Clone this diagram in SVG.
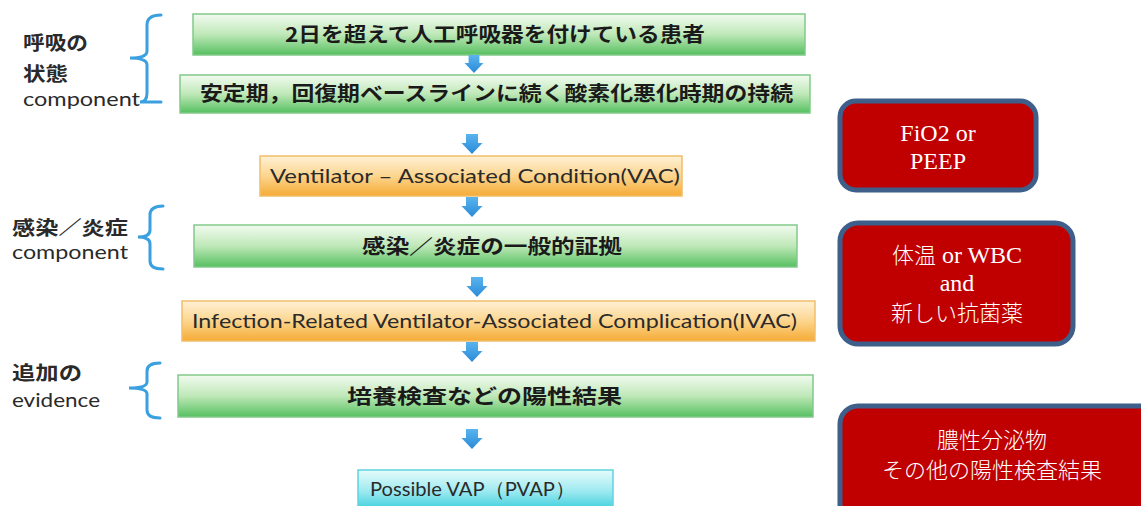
<svg xmlns="http://www.w3.org/2000/svg" width="1141" height="506" viewBox="0 0 1141 506">
<defs>
<linearGradient id="gGreen" x1="0" y1="0" x2="0" y2="1">
<stop offset="0" stop-color="#f2fbf0"/><stop offset="0.5" stop-color="#bfe8b8"/><stop offset="1" stop-color="#55c060"/>
</linearGradient>
<linearGradient id="gOrange" x1="0" y1="0" x2="0" y2="1">
<stop offset="0" stop-color="#fff1d6"/><stop offset="0.5" stop-color="#fcd58e"/><stop offset="1" stop-color="#f5ab35"/>
</linearGradient>
<linearGradient id="gCyan" x1="0" y1="0" x2="0" y2="1">
<stop offset="0" stop-color="#e6fbfb"/><stop offset="0.5" stop-color="#9eeaf0"/><stop offset="1" stop-color="#33cbdc"/>
</linearGradient>
<linearGradient id="gArrow" x1="0" y1="0" x2="0" y2="1">
<stop offset="0" stop-color="#5ab4ee"/><stop offset="1" stop-color="#2a8ad8"/>
</linearGradient>
<path id="arw" d="M-6,0 L6,0 L6,9 L10.5,9 L0,20 L-10.5,9 L-6,9 Z"/>
</defs>
<style>
.green{fill:url(#gGreen);stroke:#82c98a;stroke-width:1.5}
.orange{fill:url(#gOrange);stroke:#f2bd6a;stroke-width:1.5}
.cyan{fill:url(#gCyan);stroke:#5fd3e0;stroke-width:1.5}
.jp{font-family:"Noto Sans CJK JP",sans-serif;font-weight:700;font-size:20px;fill:#1a1a1a}
.en{font-family:"Lato","Open Sans",sans-serif;font-size:20px;fill:#2a2a2a}
.lbl{font-family:"Noto Sans CJK JP",sans-serif;font-weight:700;font-size:19px;fill:#2a2a2a}
.lblen{font-family:"Lato","Open Sans",sans-serif;font-size:20px;fill:#2a2a2a}
.brace{fill:none;stroke:#3aa0e0;stroke-width:3;stroke-linecap:round}
.red{fill:#c00000;stroke:#3d5f8a;stroke-width:5}
.rt{font-family:"Liberation Serif","Noto Sans CJK JP",serif;font-size:24px;fill:#ffffff;text-anchor:middle}
.rtj{font-family:"Noto Sans CJK JP",serif;font-weight:300;font-size:22px;fill:#ffffff;text-anchor:middle}
.arrow{fill:url(#gArrow)}
</style>
<rect width="1141" height="506" fill="#ffffff"/>

<g id="label-resp">
<text class="lbl" x="23" y="50" textLength="65" lengthAdjust="spacingAndGlyphs">呼吸の</text>
<text class="lbl" x="23" y="81" textLength="45" lengthAdjust="spacingAndGlyphs">状態</text>
<text class="lblen" x="23" y="106" textLength="117" lengthAdjust="spacingAndGlyphs">component</text>
<path class="brace" d="M161,15 Q147,15 147,25 L147,51 Q147,58 130,58 Q147,58 147,65 L147,93 Q147,102 140,102 L161,102"/>
</g>
<g id="label-infect">
<text class="lbl" x="12" y="235" textLength="116" lengthAdjust="spacingAndGlyphs">感染／炎症</text>
<text class="lblen" x="12" y="259" textLength="116" lengthAdjust="spacingAndGlyphs">component</text>
<path class="brace" d="M163,206 Q150,206 150,215 L150,230 Q150,237 138,237 Q150,237 150,244 L150,261 Q150,269 163,269"/>
</g>
<g id="label-evidence">
<text class="lbl" x="12" y="380" textLength="70" lengthAdjust="spacingAndGlyphs">追加の</text>
<text class="lblen" x="12" y="407" textLength="88" lengthAdjust="spacingAndGlyphs">evidence</text>
<path class="brace" d="M160,363 Q147,363 147,371 L147,382 Q147,388 129,388 Q147,388 147,394 L147,410 Q147,418 160,418"/>
</g>

<g id="n1"><rect class="green" x="193" y="14" width="612" height="41"/>
<text class="jp" x="285" y="42" textLength="420" lengthAdjust="spacingAndGlyphs">2日を超えて人工呼吸器を付けている患者</text></g>
<g id="n2"><rect class="green" x="180" y="75" width="630" height="38"/>
<text class="jp" x="200" y="101" textLength="593" lengthAdjust="spacingAndGlyphs">安定期，回復期ベースラインに続く酸素化悪化時期の持続</text></g>
<g id="n3"><rect class="orange" x="260" y="156" width="422" height="40"/>
<text class="en" x="270" y="183" textLength="410" lengthAdjust="spacingAndGlyphs">Ventilator – Associated Condition(VAC)</text></g>
<g id="n4"><rect class="green" x="194" y="225" width="603" height="42"/>
<text class="jp" x="362" y="254" textLength="260" lengthAdjust="spacingAndGlyphs">感染／炎症の一般的証拠</text></g>
<g id="n5"><rect class="orange" x="182" y="301" width="633" height="40"/>
<text class="en" x="192" y="328" textLength="605" lengthAdjust="spacingAndGlyphs">Infection-Related Ventilator-Associated Complication(IVAC)</text></g>
<g id="n6"><rect class="green" x="178" y="375" width="635" height="42"/>
<text class="jp" x="347" y="404" textLength="275" lengthAdjust="spacingAndGlyphs">培養検査などの陽性結果</text></g>
<g id="n7"><rect class="cyan" x="358" y="470" width="255" height="42"/>
<text class="en" x="370" y="496" textLength="205" lengthAdjust="spacingAndGlyphs">Possible VAP（PVAP）</text></g>

<g id="connectors">
<use class="arrow" href="#arw" transform="translate(474,55) scale(0.9,0.9)"/>
<use class="arrow" href="#arw" transform="translate(472,134)"/>
<use class="arrow" href="#arw" transform="translate(472,197)"/>
<use class="arrow" href="#arw" transform="translate(477,277)"/>
<use class="arrow" href="#arw" transform="translate(472,342)"/>
<use class="arrow" href="#arw" transform="translate(472,429)"/>
</g>

<g id="r1"><rect class="red" x="840" y="101" width="196" height="89" rx="16"/>
<text class="rt" x="938" y="141">FiO2 or</text>
<text class="rt" x="938" y="169">PEEP</text></g>
<g id="r2"><rect class="red" x="840" y="223" width="233" height="121" rx="18"/>
<text class="rtj" x="957" y="263"><tspan>体温</tspan><tspan font-family="Liberation Serif" font-size="24"> or WBC</tspan></text>
<text class="rt" x="957" y="291">and</text>
<text class="rtj" x="957" y="321">新しい抗菌薬</text></g>
<g id="r3"><rect class="red" x="840" y="406" width="320" height="120" rx="18"/>
<text class="rtj" x="992" y="448">膿性分泌物</text>
<text class="rtj" x="992" y="478">その他の陽性検査結果</text></g>
</svg>
